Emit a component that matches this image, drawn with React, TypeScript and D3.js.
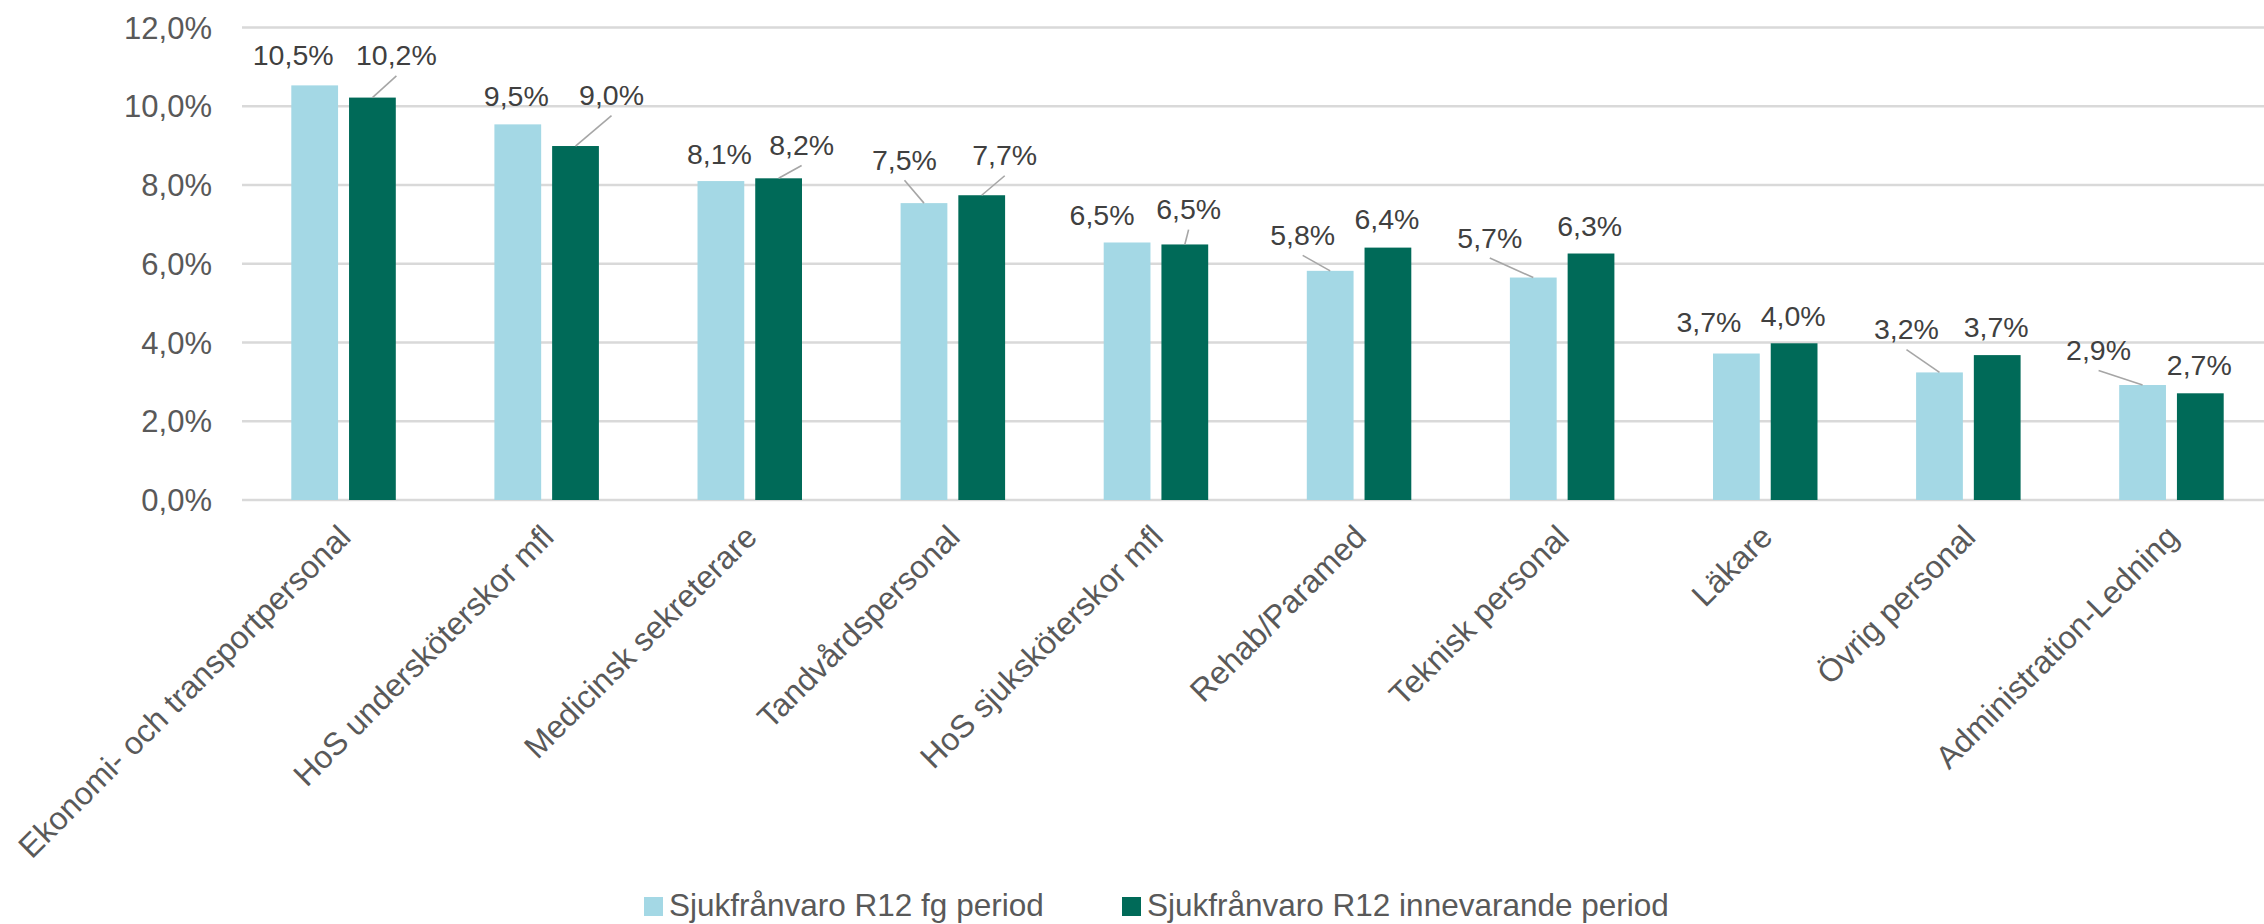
import { useEffect, useRef } from "react";
import * as d3 from "d3";

const CATEGORIES = [
  "Ekonomi- och transportpersonal",
  "HoS undersköterskor mfl",
  "Medicinsk sekreterare",
  "Tandvårdspersonal",
  "HoS sjuksköterskor mfl",
  "Rehab/Paramed",
  "Teknisk personal",
  "Läkare",
  "Övrig personal",
  "Administration-Ledning",
];

const SERIES = ["Sjukfrånvaro R12 fg period", "Sjukfrånvaro R12 innevarande period"];

// percent values
const PREV = [10.53, 9.54, 8.1, 7.54, 6.54, 5.82, 5.65, 3.72, 3.24, 2.92];
const CURR = [10.22, 8.99, 8.17, 7.74, 6.49, 6.41, 6.26, 3.98, 3.68, 2.71];

const Y_TICKS = [0, 2, 4, 6, 8, 10, 12];

// manually moved data labels: [dx, dy, hasLeader] relative to bar top centre
const PREV_NUDGE: [number, number, number][] = [
  [-21.5, -20.3, 0], [-1.5, -18.3, 0], [-1.5, -17, 0], [-19.5, -33.3, 1], [-25, -17.3, 0],
  [-27.5, -26, 1], [-43.5, -30, 1], [-27.5, -21.3, 0], [-33, -33.3, 1], [-44, -25, 1],
];
const CURR_NUDGE: [number, number, number][] = [
  [24, -32.2, 1], [36, -41, 1], [23, -23.3, 1], [23, -30, 1], [3.8, -25.3, 1],
  [-1, -18.7, 0], [-1.3, -17.3, 0], [-1, -17.6, 0], [-1, -18, 0], [-1, -18.3, 0],
];

const COLORS = ["#a4d8e5", "#006a58"];
const FONT = "'Liberation Sans', Arial, sans-serif";

interface Datum {
  cat: string;
  s: number;
  v: number;
  nudge: [number, number, number];
}

export default function App() {
  const svgRef = useRef<SVGSVGElement>(null);

  useEffect(() => {
    if (!svgRef.current) return;
    const W = 2264, H = 924;
    const svg = d3.select(svgRef.current);
    svg.selectAll("*").remove();
    svg.attr("width", W).attr("height", H).attr("viewBox", `0 0 ${W} ${H}`);

    const left = 242, right = 2273;
    const x0 = d3.scaleBand<string>()
      .domain(CATEGORIES)
      .range([left, right])
      .paddingInner(0.4855)
      .paddingOuter(0.24275);
    const x1 = d3.scaleBand<number>()
      .domain([0, 1])
      .range([0, x0.bandwidth()])
      .paddingInner(0.19);
    const y = d3.scaleLinear().domain([0, 12]).range([500, 27.5]);

    // --- gridlines ---
    svg.append("g")
      .selectAll("line")
      .data(Y_TICKS)
      .join("line")
      .attr("x1", left).attr("x2", right)
      .attr("y1", (d) => y(d)).attr("y2", (d) => y(d))
      .attr("stroke", "#d9d9d9")
      .attr("stroke-width", 2.5);

    // --- y tick labels ---
    svg.append("g")
      .selectAll("text")
      .data(Y_TICKS)
      .join("text")
      .attr("x", 212)
      .attr("y", (d) => y(d))
      .attr("dy", "0.36em")
      .attr("text-anchor", "end")
      .attr("fill", "#595959")
      .attr("font-family", FONT)
      .attr("font-size", 31)
      .text((d) => d.toFixed(1).replace(".", ",") + "%");

    const data: Datum[] = CATEGORIES.flatMap((cat, i) => [
      { cat, s: 0, v: PREV[i], nudge: PREV_NUDGE[i] },
      { cat, s: 1, v: CURR[i], nudge: CURR_NUDGE[i] },
    ]);

    const cx = (d: Datum) => (x0(d.cat) ?? 0) + (x1(d.s) ?? 0) + x1.bandwidth() / 2;

    // --- bars ---
    svg.append("g")
      .selectAll("rect")
      .data(data)
      .join("rect")
      .attr("x", (d) => (x0(d.cat) ?? 0) + (x1(d.s) ?? 0))
      .attr("y", (d) => y(d.v))
      .attr("width", x1.bandwidth())
      .attr("height", (d) => y(0) - y(d.v))
      .attr("fill", (d) => COLORS[d.s]);

    // --- leader lines ---
    svg.append("g")
      .selectAll("line")
      .data(data.filter((d) => d.nudge[2]))
      .join("line")
      .attr("x1", (d) => cx(d) + d.nudge[0])
      .attr("y1", (d) => y(d.v) + d.nudge[1] + 10.5)
      .attr("x2", (d) => cx(d))
      .attr("y2", (d) => y(d.v))
      .attr("stroke", "#a6a6a6")
      .attr("stroke-width", 1.6);

    // --- data labels ---
    svg.append("g")
      .selectAll("text")
      .data(data)
      .join("text")
      .attr("x", (d) => cx(d) + d.nudge[0])
      .attr("y", (d) => y(d.v) + d.nudge[1])
      .attr("text-anchor", "middle")
      .attr("fill", "#404040")
      .attr("font-family", FONT)
      .attr("font-size", 28.5)
      .text((d) => d.v.toFixed(1).replace(".", ",") + "%");

    // --- category labels, rotated -45 ---
    svg.append("g")
      .selectAll("text")
      .data(CATEGORIES)
      .join("text")
      .attr("transform", (d) => `translate(${(x0(d) ?? 0) + x0.bandwidth() / 2 + 9},539) rotate(-45)`)
      .attr("text-anchor", "end")
      .attr("fill", "#595959")
      .attr("font-family", FONT)
      .attr("font-size", 32)
      .text((d) => d);

    // --- legend ---
    const legendX = [644, 1122];
    const lg = svg.append("g")
      .selectAll("g")
      .data(SERIES)
      .join("g")
      .attr("transform", (_, i) => `translate(${legendX[i]},0)`);
    lg.append("rect")
      .attr("x", 0).attr("y", 897)
      .attr("width", 19).attr("height", 19)
      .attr("fill", (_, i) => COLORS[i]);
    lg.append("text")
      .attr("x", 25).attr("y", 916)
      .attr("fill", "#595959")
      .attr("font-family", FONT)
      .attr("font-size", 31.5)
      .text((d) => d);
  }, []);

  return (
    <div style={{ width: 2264, height: 924, overflow: "hidden", background: "#fff" }}>
      <style>{`body{margin:0;background:#fff}`}</style>
      <svg ref={svgRef} style={{ display: "block" }} />
    </div>
  );
}
